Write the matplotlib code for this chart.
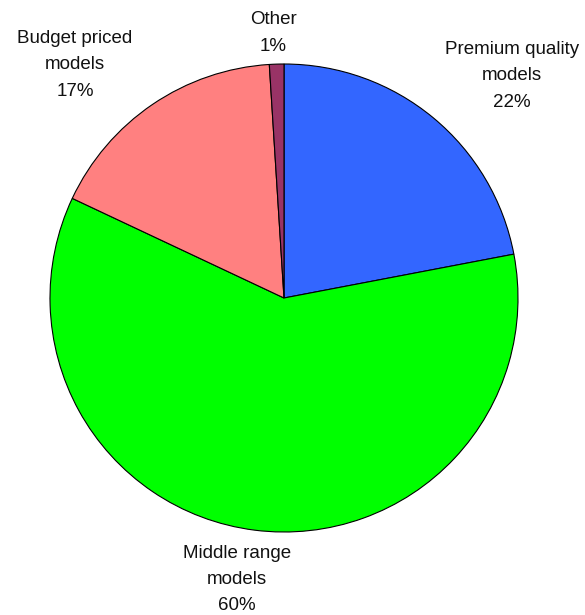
import matplotlib
matplotlib.use("Agg")
import matplotlib.pyplot as plt

categories = ["Premium quality\nmodels", "Middle range\nmodels", "Budget priced\nmodels", "Other"]
shares = [22, 60, 17, 1]
colors = ["#3366FF", "#00FF00", "#FF8080", "#993366"]

# label anchor points (in pie-radius units)
label_pos = [(0.974, 0.949), (-0.20, -1.203), (-0.893, 0.996), (-0.047, 1.132)]

fig = plt.figure(figsize=(5.85, 6.15), dpi=100)
ax = fig.add_axes([0, 0, 1, 1])

cx, cy, r = 284, 615 - 298, 234
ax.pie(shares, colors=colors, startangle=90, counterclock=False,
       radius=1, center=(0, 0),
       wedgeprops=dict(edgecolor="black", linewidth=0.8))

for cat, val, (lx, ly) in zip(categories, shares, label_pos):
    ax.text(lx, ly, f"{cat}\n{val}%", ha="center", va="center",
            fontsize=13.5, family="Liberation Sans", linespacing=1.72,
            color="#111111")

# map data units so the pie sits at the chosen pixel position
ax.set_xlim(-cx / r, (585 - cx) / r)
ax.set_ylim(-cy / r, (615 - cy) / r)
ax.set_aspect("auto")
ax.axis("off")

fig.savefig("out.png", dpi=100, facecolor="white")
